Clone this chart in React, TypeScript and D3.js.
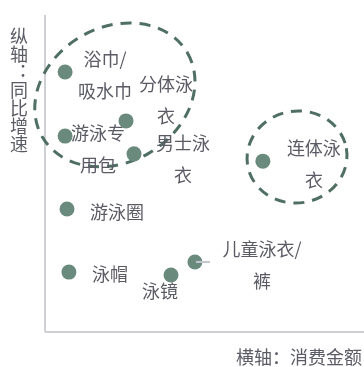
import React from 'react'
import * as d3 from 'd3'

// category names, "\n" marks where the label wraps
const names = [
  '浴巾/\n吸水巾',
  '游泳专\n用包',
  '分体泳\n衣',
  '男士泳\n衣',
  '连体泳\n衣',
  '游泳圈',
  '泳帽',
  '泳镜',
  '儿童泳衣/\n裤',
]
// horizontal: spend, vertical: yoy growth (relative 0-100)
const spend = [6.3, 6.3, 25.4, 27.9, 68.3, 6.9, 7.5, 39.5, 47.0]
const growth = [82.0, 61.8, 66.6, 56.2, 53.9, 38.8, 18.9, 18.0, 22.1]

// label offsets from the point (px)
const labelDx = [40, 33, 40, 49, 51, 50, 41, -11, 67]
const labelDy = [-14, -4, -38, -12, -14, 2, 1, 15, -14]

// dashed highlight rings, in data units
const ringCx = [21.9, 79.0]
const ringCy = [74.8, 55.2]
const ringRx = [26.3, 15.7]
const ringRy = [21.3, 14.5]
const ringAngle = [-30, -10]

const xTitle = '横轴：消费金额'
const yTitle = '纵轴：同比增速'

const W = 364
const H = 367
const left = 45
const top = 15
const bottom = 332

const font = '"Noto Sans CJK SC", "Noto Sans", sans-serif'
const textColor = '#5b5b66'
const dotColor = '#6a8a7e'
const ringColor = '#4f6f63'
const lineH = 32

export default function App() {
  const x = d3.scaleLinear().domain([0, 100]).range([left, W])
  const y = d3.scaleLinear().domain([0, 100]).range([bottom, top])

  return (
    <svg width={W} height={H} style={{ position: 'fixed', left: 0, top: 0 }} fontFamily={font}>
      {/* axes */}
      <line x1={left} x2={left} y1={top} y2={bottom} stroke="#cfcfd6" strokeWidth={2} />
      <line x1={left} x2={W} y1={bottom} y2={bottom} stroke="#cfcfd6" strokeWidth={2} />

      {/* highlight rings */}
      {ringCx.map((c, i) => {
        const cx = x(c)
        const cy = y(ringCy[i])
        return (
          <ellipse key={'r' + i}
            cx={cx} cy={cy}
            rx={x(c + ringRx[i]) - cx}
            ry={cy - y(ringCy[i] + ringRy[i])}
            transform={`rotate(${ringAngle[i]} ${cx} ${cy})`}
            fill="none" stroke={ringColor} strokeWidth={3}
            strokeDasharray="11 8" />
        )
      })}

      {/* points */}
      {names.map((n, i) => {
        const px = x(spend[i])
        const py = y(growth[i])
        const lines = n.split('\n')
        return (
          <g key={'p' + i}>
            <circle cx={px} cy={py} r={7.5} fill={dotColor} />
            {i === 8 && <line x1={px + 1} x2={px + 15} y1={py} y2={py} stroke="#c4c4cc" strokeWidth={2} />}
            <text fontSize={18} fill={textColor} textAnchor="middle">
              {lines.map((l, j) => (
                <tspan key={j} x={px + labelDx[i]} y={py + labelDy[i] + j * lineH} dominantBaseline="central">{l}</tspan>
              ))}
            </text>
          </g>
        )
      })}

      {/* axis titles */}
      <text x={362} y={356} fontSize={18} fill={textColor} textAnchor="end" dominantBaseline="central">{xTitle}</text>
      <text x={19} y={27} fontSize={18} fill={textColor}
        style={{ writingMode: 'vertical-rl' }}>{yTitle}</text>
    </svg>
  )
}
